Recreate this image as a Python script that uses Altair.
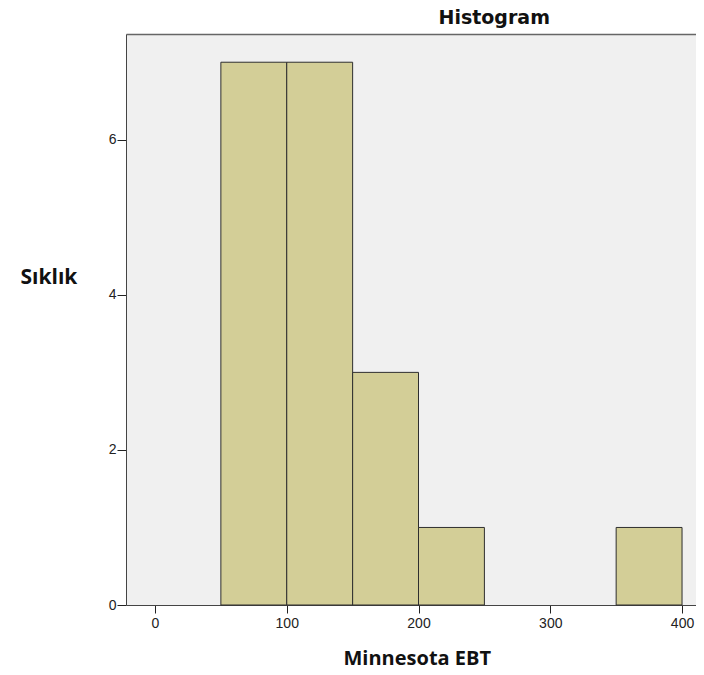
import altair as alt
import pandas as pd

bin_start = [50, 100, 150, 200, 350]
bin_end = [100, 150, 200, 250, 400]
counts = [7, 7, 3, 1, 1]
x_ticks = [0, 100, 200, 300, 400]
y_ticks = [0, 2, 4, 6]

df = pd.DataFrame({"start": bin_start, "end": bin_end, "count": counts})

xscale = alt.Scale(domain=[-22, 410.6], nice=False, zero=False)
yscale = alt.Scale(domain=[0, 7.364], nice=False, zero=True)

label_font = "Liberation Sans"

bars = alt.Chart(df).mark_bar(
    fill="#d3ce97", stroke="#2e2e2e", strokeWidth=1
).encode(
    x=alt.X(
        "start:Q", scale=xscale,
        axis=alt.Axis(
            orient="bottom", values=x_ticks, grid=False,
            title="Minnesota EBT", titleFont="Open Sans", titleFontSize=20,
            titleFontWeight="bold", titleColor="#111", titleAlign="left",
            titleBaseline="alphabetic", titleX=217, titleY=59,
            labelFont=label_font, labelFontSize=14, labelColor="#222",
            labelPadding=3, tickSize=8, tickColor="#222",
            domainColor="#444", labelFlush=False,
        ),
    ),
    x2="end:Q",
    y=alt.Y(
        "count:Q", scale=yscale,
        axis=alt.Axis(
            values=y_ticks, grid=False,
            title="Sıklık", titleAngle=0, titleFont="Open Sans", titleFontSize=21,
            titleFontWeight="bold", titleColor="#111", titleAlign="left",
            titleBaseline="alphabetic", titleX=-106, titleY=249,
            labelFont=label_font, labelFontSize=14, labelColor="#222",
            labelPadding=1, tickSize=9, tickColor="#222",
            domainColor="#444", labelFlush=False,
        ),
    ),
    y2=alt.datum(0),
)

top = alt.Chart(df).mark_point(opacity=0).encode(
    x=alt.X(
        "start:Q", scale=xscale,
        axis=alt.Axis(
            orient="top", labels=False, ticks=False, grid=False,
            title="Histogram", titleFont="DejaVu Sans", titleFontSize=19,
            titleFontWeight="bold", titleColor="#111", titleAlign="left",
            titleBaseline="alphabetic", titleX=312, titleY=-11,
            domainColor="#666", domainWidth=1.5,
        ),
    ),
    y=alt.value(0),
)

chart = alt.layer(bars, top).resolve_axis(x="independent").properties(
    width=570, height=571, autosize="none",
    padding={"left": 118, "top": 26, "right": 0, "bottom": 62},
).configure_view(fill="#f0f0f0", stroke=None)

chart.save("out.html", embed_options={"renderer": "svg", "actions": False})
